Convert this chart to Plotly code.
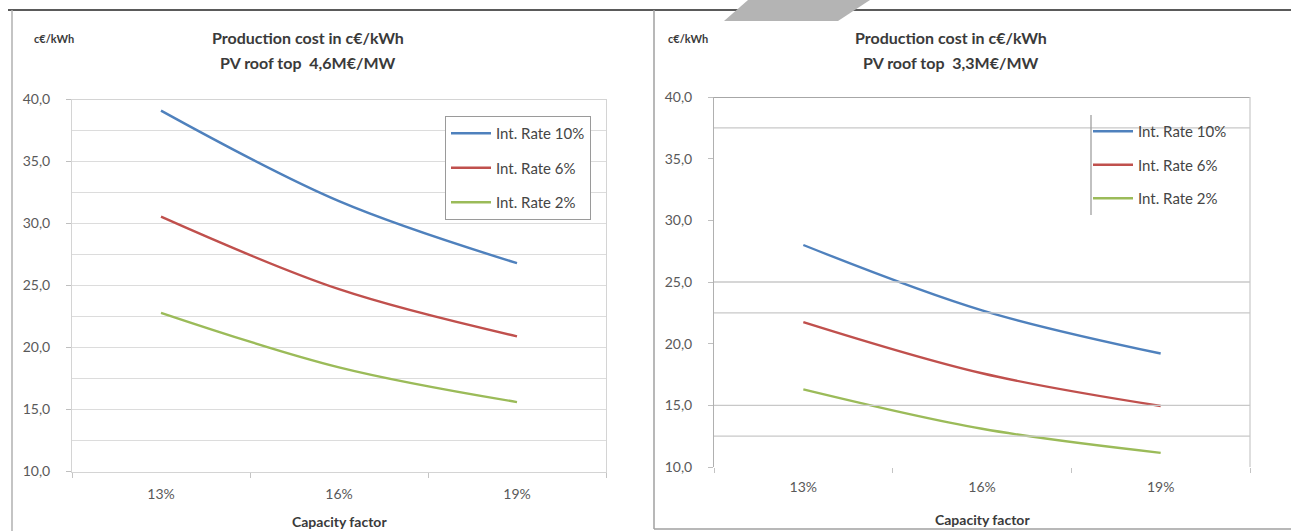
import plotly.graph_objects as go

# Capacity factor categories and production cost (c€/kWh) per interest rate
capacity_factor = ["13%", "16%", "19%"]
y_tick_vals = [10, 15, 20, 25, 30, 35, 40]
y_tick_text = ["10,0", "15,0", "20,0", "25,0", "30,0", "35,0", "40,0"]

series_names = ["Int. Rate 10%", "Int. Rate 6%", "Int. Rate 2%"]
series_colors = ["#4F81BD", "#C0504D", "#9BBB59"]

# PV roof top 4,6 M€/MW
cost_46_rate10 = [39.1, 31.8, 26.8]
cost_46_rate6 = [30.55, 24.7, 20.9]
cost_46_rate2 = [22.8, 18.4, 15.6]

# PV roof top 3,3 M€/MW
cost_33_rate10 = [28.0, 22.7, 19.2]
cost_33_rate6 = [21.75, 17.6, 14.95]
cost_33_rate2 = [16.3, 13.1, 11.15]

W, H = 1291, 531
FONT = "Lato, 'Open Sans', sans-serif"
TICK_COLOR = "#595959"
TEXT_DARK = "#3a3a3a"


def px(x):
    return x / W


def py(y):
    return 1 - y / H


fig = go.Figure()

left_series = [cost_46_rate10, cost_46_rate6, cost_46_rate2]
right_series = [cost_33_rate10, cost_33_rate6, cost_33_rate2]

for i, (name, color, vals) in enumerate(zip(series_names, series_colors, left_series)):
    fig.add_trace(go.Scatter(
        x=capacity_factor, y=vals, name=name, mode="lines",
        line=dict(color=color, width=2.4, shape="spline", smoothing=1.0),
        xaxis="x", yaxis="y", legend="legend", legendgroup=f"l{i}",
    ))

for i, (name, color, vals) in enumerate(zip(series_names, series_colors, right_series)):
    fig.add_trace(go.Scatter(
        x=capacity_factor, y=vals, name=name, mode="lines",
        line=dict(color=color, width=2.4, shape="spline", smoothing=1.0),
        xaxis="x2", yaxis="y2", legend="legend2", legendgroup=f"r{i}",
    ))

tick_font = dict(family=FONT, size=14, color=TICK_COLOR)

common_x = dict(
    type="category", range=[-0.5, 2.5], tickson="boundaries",
    ticks="outside", ticklen=5, tickcolor="#c4c4c4",
    tickfont=tick_font, showgrid=False, zeroline=False,
    ticklabelstandoff=10, fixedrange=True, automargin=False,
)
common_y = dict(
    tickmode="array", tickvals=y_tick_vals, ticktext=y_tick_text,
    range=[10, 40], ticks="outside", ticklen=5, tickcolor="#bfbfbf",
    tickfont=tick_font, zeroline=False, ticklabelstandoff=13,
    fixedrange=True, automargin=False,
)

fig.update_layout(
    width=W, height=H,
    margin=dict(l=0, r=0, t=0, b=0, pad=0, autoexpand=False),
    paper_bgcolor="white", plot_bgcolor="white",
    font=dict(family=FONT, color=TEXT_DARK),
    xaxis=dict(common_x, domain=[px(72), px(606)], anchor="y",
               showline=True, linecolor="#d4d4d4", mirror=True),
    yaxis=dict(common_y, domain=[py(471.5), py(99.5)], anchor="x",
               showgrid=True, gridcolor="#dcdcdc", gridwidth=1,
               showline=True, linecolor="#d4d4d4", mirror=True,
               minor=dict(dtick=2.5, tick0=10, showgrid=True,
                          gridcolor="#dcdcdc", ticks="")),
    xaxis2=dict(common_x, domain=[px(714), px(1250)], anchor="y2",
                showline=False),
    yaxis2=dict(common_y, domain=[py(467), py(97)], anchor="x2",
                showgrid=False, showline=True, linecolor="#b0b0b0"),
    legend=dict(
        x=px(445), y=py(116), xanchor="left", yanchor="top",
        bgcolor="white", bordercolor="#9a9a9a", borderwidth=1,
        font=dict(family=FONT, size=15, color="#454545"),
        tracegroupgap=12, itemwidth=40,
    ),
    legend2=dict(
        x=px(1088), y=py(115), xanchor="left", yanchor="top",
        bgcolor="rgba(0,0,0,0)", borderwidth=0,
        font=dict(family=FONT, size=15, color="#454545"),
        tracegroupgap=11, itemwidth=40,
    ),
    showlegend=True,
)

# Right-hand chart: the gridlines that remain visible
for gy in [37.5, 25, 22.5, 15, 12.5]:
    fig.add_shape(type="line", xref="x2 domain", yref="y2",
                  x0=0, x1=1, y0=gy, y1=gy,
                  line=dict(color="#c8c8c8", width=1.3))
fig.add_shape(type="line", xref="x2 domain", yref="y2", x0=0, x1=1,
              y0=40, y1=40, line=dict(color="#8a8a8a", width=1.6))
fig.add_shape(type="line", xref="x2 domain", yref="y2 domain", x0=1, x1=1,
              y0=0, y1=1, line=dict(color="#c8c8c8", width=1.2))
# Legend separator on the right chart
fig.add_shape(type="line", xref="paper", yref="paper",
              x0=px(1091), x1=px(1091), y0=py(115), y1=py(215),
              line=dict(color="#a0a0a0", width=1.3))

# Panel frames
frame = dict(color="#5a5a5a", width=2)
fig.add_shape(type="line", xref="paper", yref="paper",
              x0=px(8), x1=1, y0=py(10), y1=py(10), line=frame)
fig.add_shape(type="line", xref="paper", yref="paper",
              x0=px(12), x1=px(12), y0=0, y1=py(10),
              line=dict(color="#b0b0b0", width=1.5))
fig.add_shape(type="line", xref="paper", yref="paper",
              x0=px(654), x1=px(654), y0=py(529), y1=py(10),
              line=dict(color="#a0a0a0", width=1.5))
fig.add_shape(type="line", xref="paper", yref="paper",
              x0=px(654), x1=1, y0=py(529), y1=py(529),
              line=dict(color="#a0a0a0", width=1.5))

# Grey band across the top edge
fig.add_shape(type="path", xref="paper", yref="paper",
              path=(f"M {px(748)} {py(0)} L {px(870)} {py(0)} "
                    f"L {px(838)} {py(21)} L {px(724)} {py(21)} Z"),
              fillcolor="#b4b4b4", line=dict(width=0), layer="above")

# Titles and axis labels
title_font = dict(family=FONT, size=16, color=TEXT_DARK)
for cx, sub in [(308, "PV roof top  4,6M€/MW"), (951, "PV roof top  3,3M€/MW")]:
    fig.add_annotation(x=px(cx), y=py(37), xref="paper", yref="paper",
                       text="<b>Production cost in c€/kWh</b>", showarrow=False,
                       font=title_font, xanchor="center", yanchor="middle")
    fig.add_annotation(x=px(cx), y=py(62), xref="paper", yref="paper",
                       text=f"<b>{sub}</b>", showarrow=False,
                       font=title_font, xanchor="center", yanchor="middle")

for lx in [32, 666]:
    fig.add_annotation(x=px(lx), y=py(39), xref="paper", yref="paper",
                       text="<b>c€/kWh</b>", showarrow=False,
                       font=dict(family=FONT, size=11, color=TEXT_DARK),
                       xanchor="left", yanchor="middle")

for cx, cy in [(339, 521), (982, 519)]:
    fig.add_annotation(x=px(cx), y=py(cy), xref="paper", yref="paper",
                       text="<b>Capacity factor</b>", showarrow=False,
                       font=dict(family=FONT, size=14, color=TEXT_DARK),
                       xanchor="center", yanchor="middle")

fig.write_html("out.html")
